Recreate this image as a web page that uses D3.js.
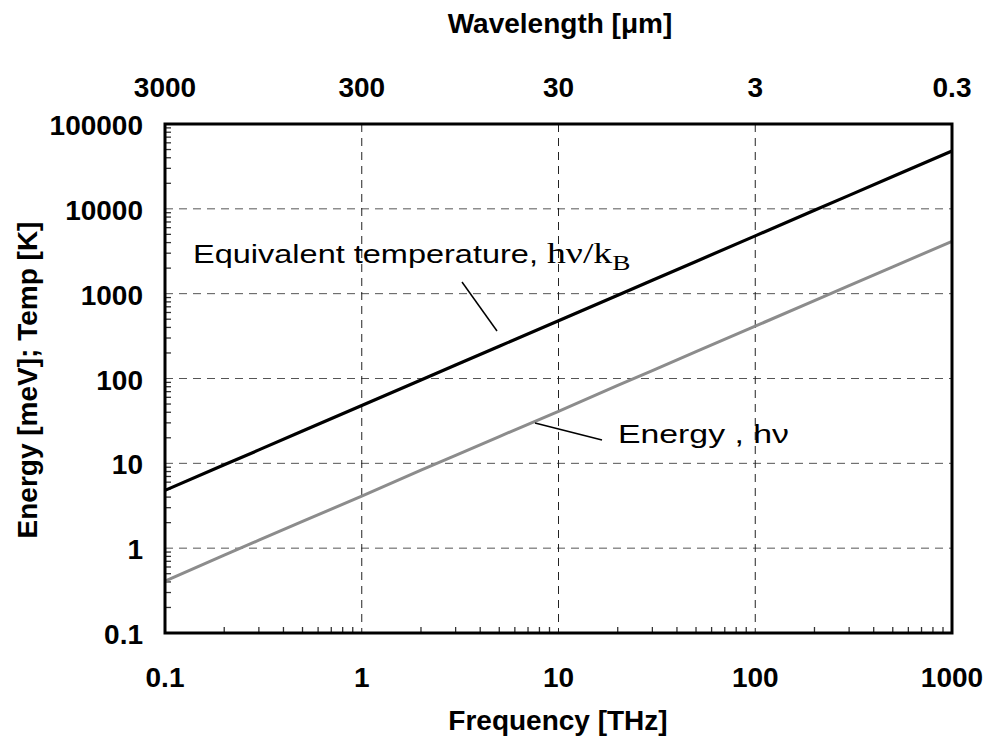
<!DOCTYPE html>
<html>
<head>
<meta charset="utf-8">
<script src="https://cdn.jsdelivr.net/npm/d3@7"></script>
<style>
  body { margin: 0; background: #fff; }
  text { font-family: Arial, "Liberation Sans", sans-serif; }
</style>
</head>
<body>
<script>
// values
const freqTHz = [0.1, 0.2, 0.3, 0.5, 1, 2, 3, 5, 10, 20, 30, 50, 100, 200, 300, 500, 1000];
const tempK   = [4.8, 9.6, 14.4, 24, 48, 96, 144, 240, 480, 960, 1440, 2400, 4800, 9600, 14400, 24000, 48000];
const energyMeV = [0.41, 0.83, 1.24, 2.07, 4.1, 8.3, 12.4, 20.7, 41, 83, 124, 207, 414, 827, 1240, 2070, 4140];

const freqTicks = [0.1, 1, 10, 100, 1000];
const waveTicks = [3000, 300, 30, 3, 0.3];
const yTicks = [0.1, 1, 10, 100, 1000, 10000, 100000];

const W = 987, H = 745;
const pl = 165, pr = 952, pt = 124, pb = 633;
const serif = '"Liberation Serif", "Times New Roman", serif';

const svg = d3.select('body').append('svg')
  .attr('width', W).attr('height', H);

const x = d3.scaleLog().domain([0.1, 1000]).range([pl, pr]);
const xTop = d3.scaleLog().domain([3000, 0.3]).range([pl, pr]);
const y = d3.scaleLog().domain([0.1, 100000]).range([pb, pt]);

// grid
svg.append('g').selectAll('line')
  .data(yTicks.slice(1, -1))
  .join('line')
  .attr('x1', pl).attr('x2', pr)
  .attr('y1', d => y(d)).attr('y2', d => y(d))
  .attr('stroke', '#555').attr('stroke-width', 1)
  .attr('stroke-dasharray', '8,6');

svg.append('g').selectAll('line')
  .data(freqTicks.slice(1, -1))
  .join('line')
  .attr('x1', d => x(d)).attr('x2', d => x(d))
  .attr('y1', pt).attr('y2', pb)
  .attr('stroke', '#222').attr('stroke-width', 1)
  .attr('stroke-dasharray', '8,6');

// minor ticks inside
const minors = [];
for (let e = -1; e < 5; e++)
  for (let m = 2; m <= 9; m++) minors.push(m * Math.pow(10, e));

svg.append('g').selectAll('line')
  .data(minors.filter(d => d < 1000))
  .join('line')
  .attr('x1', d => x(d)).attr('x2', d => x(d))
  .attr('y1', pb).attr('y2', pb - 6)
  .attr('stroke', '#333').attr('stroke-width', 1.3);

svg.append('g').selectAll('line')
  .data(minors.filter(d => d < 100000))
  .join('line')
  .attr('x1', pl).attr('x2', pl + 6)
  .attr('y1', d => y(d)).attr('y2', d => y(d))
  .attr('stroke', '#333').attr('stroke-width', 1.3);

// lines
const line = v => d3.line()
  .x((d, i) => x(freqTHz[i]))
  .y((d, i) => y(v[i]))(freqTHz);

svg.append('path')
  .attr('d', line(energyMeV))
  .attr('fill', 'none').attr('stroke', '#8c8c8c').attr('stroke-width', 3);

svg.append('path')
  .attr('d', line(tempK))
  .attr('fill', 'none').attr('stroke', '#000').attr('stroke-width', 3.2);

// frame
svg.append('rect')
  .attr('x', pl).attr('y', pt)
  .attr('width', pr - pl).attr('height', pb - pt)
  .attr('fill', 'none').attr('stroke', '#000').attr('stroke-width', 3);

// tick labels
const bold = sel => sel.style('font-size', '28px').style('font-weight', 'bold');

svg.append('g').selectAll('text')
  .data(freqTicks)
  .join('text')
  .attr('x', d => x(d)).attr('y', 687)
  .attr('text-anchor', 'middle')
  .call(bold)
  .text(d => d);

svg.append('g').selectAll('text')
  .data(waveTicks)
  .join('text')
  .attr('x', d => xTop(d)).attr('y', 97)
  .attr('text-anchor', 'middle')
  .call(bold)
  .text(d => d);

svg.append('g').selectAll('text')
  .data(yTicks)
  .join('text')
  .attr('x', 143).attr('y', d => y(d) + 11)
  .attr('text-anchor', 'end')
  .call(bold)
  .text(d => d);

// axis titles
svg.append('text')
  .attr('x', 558).attr('y', 730)
  .attr('text-anchor', 'middle')
  .call(bold)
  .text('Frequency [THz]');

svg.append('text')
  .attr('x', 560).attr('y', 33)
  .attr('text-anchor', 'middle')
  .call(bold)
  .text('Wavelength [μm]');

svg.append('text')
  .attr('transform', 'translate(37,380) rotate(-90)')
  .attr('text-anchor', 'middle')
  .call(bold)
  .text('Energy [meV]; Temp [K]');

// annotations (text is stretched sideways in the original)
const t1 = svg.append('text')
  .attr('transform', 'translate(193,263) scale(1.3,1)')
  .style('font-size', '25px');
t1.append('tspan').text('Equivalent temperature, ');
t1.append('tspan').style('font-family', serif)
  .style('font-size', '29px').text('hν/k');
t1.append('tspan').attr('dy', 7).style('font-family', serif)
  .style('font-size', '21px').text('B');

svg.append('line')
  .attr('x1', 462).attr('y1', 282).attr('x2', 497).attr('y2', 331)
  .attr('stroke', '#000').attr('stroke-width', 1.5);

svg.append('text')
  .attr('transform', 'translate(618,443) scale(1.3,1)')
  .style('font-size', '26px')
  .text('Energy , hν');

svg.append('line')
  .attr('x1', 535).attr('y1', 423).attr('x2', 602).attr('y2', 440)
  .attr('stroke', '#000').attr('stroke-width', 1.5);
</script>
</body>
</html>
